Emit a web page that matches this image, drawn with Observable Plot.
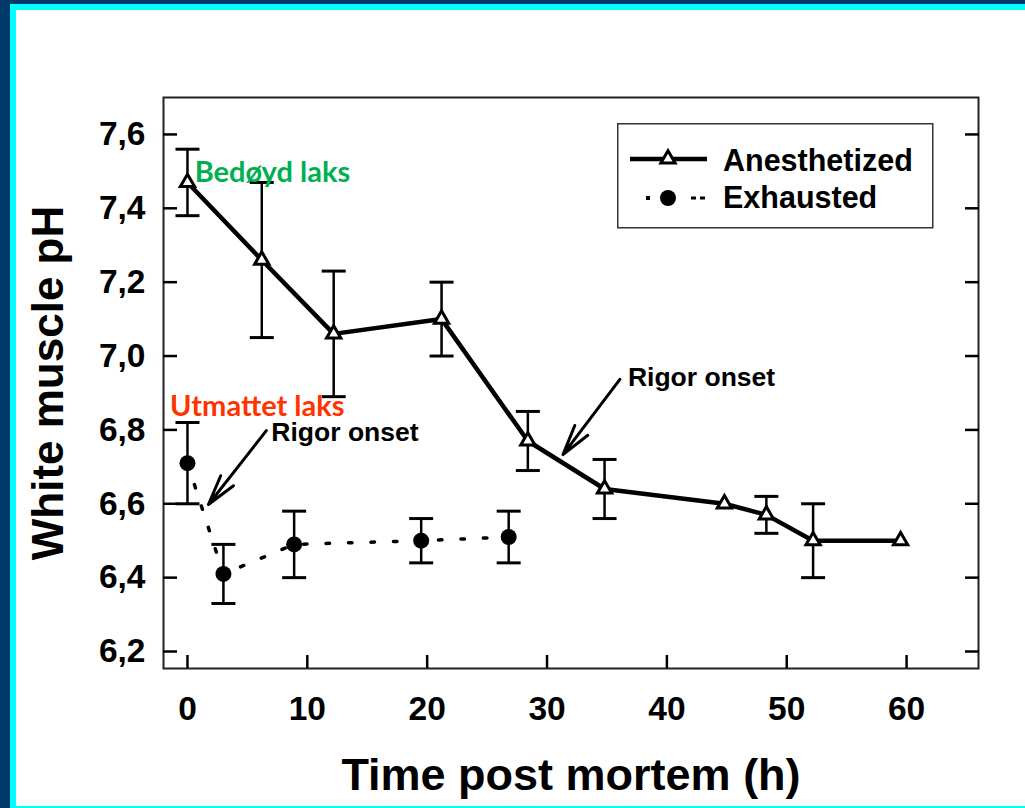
<!DOCTYPE html>
<html><head><meta charset="utf-8">
<script src="https://cdn.jsdelivr.net/npm/d3@7"></script>
<script src="https://cdn.jsdelivr.net/npm/@observablehq/plot@0.6"></script>
<style>
body{margin:0;background:#fff;}
#wrap{position:relative;width:1025px;height:808px;overflow:hidden;background:#fff;font-family:"Liberation Sans",Arial,sans-serif;}
.strip{position:absolute;}
</style></head><body><div id="wrap">
<div class="strip" style="left:0;top:0;width:10px;height:808px;background:#003a6a"></div>
<div class="strip" style="left:0;top:0;width:1025px;height:4px;background:#003a6a"></div>
<div class="strip" style="left:10px;top:4px;width:6px;height:804px;background:#00ffff"></div>
<div class="strip" style="left:10px;top:4px;width:1015px;height:6px;background:#00ffff"></div>
<div class="strip" style="left:10px;top:806px;width:1015px;height:2px;background:#00ffff"></div>
<div id="chart" style="position:absolute;left:0;top:0"></div>
<div id="legend" style="position:absolute;left:617px;top:123px"></div>
</div>
<script>
// ---- data ----
const anesTime = [0, 6.2, 12.2, 21.2, 28.4, 34.8, 44.8, 48.3, 52.2, 59.5];
const anesPH   = [7.47, 7.26, 7.06, 7.10, 6.77, 6.64, 6.60, 6.57, 6.50, 6.50];
const anesLo   = [7.38, 7.05, 6.89, 7.00, 6.69, 6.56, null, 6.52, 6.40, null];
const anesHi   = [7.56, 7.47, 7.23, 7.20, 6.85, 6.72, null, 6.62, 6.60, null];
const exhTime  = [0, 3.0, 8.9, 19.5, 26.8];
const exhPH    = [6.71, 6.41, 6.49, 6.50, 6.51];
const exhLo    = [6.60, 6.33, 6.40, 6.44, 6.44];
const exhHi    = [6.82, 6.49, 6.58, 6.56, 6.58];
const xTicks = [0, 10, 20, 30, 40, 50, 60];
const yTicks = [6.2, 6.4, 6.6, 6.8, 7.0, 7.2, 7.4, 7.6];
const seriesNames = ["Anesthetized", "Exhausted"];
const xTitle = "Time post mortem (h)";
const yTitle = "White muscle pH";
// group labels (Norwegian) and "Rigor onset" annotations, in data units
const groupLabels = ["Bedøyd laks", "Utmattet laks"];
const groupLabelX = [0.6, -1.45];
const groupLabelY = [7.497, 6.862];
const rigorLabel = "Rigor onset";
const rigorLabelX = [36.75, 7.0];
const rigorLabelY = [6.942, 6.794];
const rigorArrowFromX = [36.08, 6.58];
const rigorArrowFromY = [6.937, 6.798];
const rigorArrowToX = [31.33, 1.75];
const rigorArrowToY = [6.733, 6.598];

// ---- tables ----
const anes = anesTime.map((t, i) => ({t, ph: anesPH[i], lo: anesLo[i], hi: anesHi[i]}));
const exh = exhTime.map((t, i) => ({t, ph: exhPH[i], lo: exhLo[i], hi: exhHi[i]}));
const anesErr = anes.filter(d => d.lo != null);
const groups = groupLabels.map((s, i) => ({s, x: groupLabelX[i], y: groupLabelY[i], c: i === 0 ? "#00b050" : "#ff3300"}));
const rigors = rigorLabelX.map((x, i) => ({s: rigorLabel, x, y: rigorLabelY[i]}));
const arrows = rigorArrowFromX.map((x, i) => ({x1: x, y1: rigorArrowFromY[i], x2: rigorArrowToX[i], y2: rigorArrowToY[i]}));

const capSymbol = {draw(ctx, size) { const w = Math.sqrt(size / Math.PI); ctx.moveTo(-w, 0); ctx.lineTo(w, 0); }};
const fmtY = d => d.toFixed(1).replace(".", ",");
const bold = {fontWeight: "bold", fontFamily: "Liberation Sans, Arial, sans-serif"};

const errMarks = (rows) => [
  Plot.ruleX(rows, {x: "t", y1: "lo", y2: "hi", stroke: "black", strokeWidth: 2.5}),
  Plot.dot(rows, {x: "t", y: "lo", symbol: capSymbol, r: 12, stroke: "black", strokeWidth: 3, fill: "none"}),
  Plot.dot(rows, {x: "t", y: "hi", symbol: capSymbol, r: 12, stroke: "black", strokeWidth: 3, fill: "none"})
];

const chart = Plot.plot({
  width: 1025, height: 808,
  marginLeft: 163, marginRight: 47, marginTop: 97, marginBottom: 140,
  style: {background: "transparent", overflow: "visible", fontFamily: "Liberation Sans, Arial, sans-serif"},
  x: {domain: [-2, 66]},
  y: {domain: [6.154, 7.70]},
  marks: [
    Plot.frame({stroke: "#222", strokeWidth: 2}),
    Plot.axisY(yTicks, {anchor: "left", tickSize: -14, tickFormat: () => "", strokeWidth: 2.5, label: null}),
    Plot.axisY(yTicks, {anchor: "right", tickSize: -14, tickFormat: () => "", strokeWidth: 2.5, label: null}),
    Plot.axisY(yTicks, {anchor: "left", tickSize: 0, tickPadding: 18, tickFormat: fmtY, fontSize: 33.5, ...bold, fill: "black", label: null}),
    Plot.axisX(xTicks, {anchor: "bottom", tickSize: -13, tickFormat: () => "", strokeWidth: 2.5, label: null}),
    Plot.axisX(xTicks, {anchor: "bottom", tickSize: 0, tickPadding: 28, fontSize: 33.5, ...bold, fill: "black", label: null}),
    Plot.text([yTitle], {text: d => d, frameAnchor: "left", dx: -115, rotate: -90, textAnchor: "middle", fontSize: 44, ...bold, fill: "black", lineAnchor: "middle"}),
    Plot.text([xTitle], {text: d => d, frameAnchor: "bottom", dy: 107, textAnchor: "middle", fontSize: 45, ...bold, fill: "black", lineAnchor: "middle"}),
    Plot.line(exh, {x: "t", y: "ph", stroke: "black", strokeWidth: 3.5, strokeDasharray: "3.5,19"}),
    Plot.line(anes, {x: "t", y: "ph", stroke: "black", strokeWidth: 4.5}),
    ...errMarks(anesErr),
    ...errMarks(exh),
    Plot.dot(exh, {x: "t", y: "ph", r: 8, fill: "black", stroke: "none"}),
    Plot.dot(anes, {x: "t", y: "ph", symbol: "triangle", r: 5.3, fill: "white", stroke: "black", strokeWidth: 3}),
    Plot.arrow(arrows, {x1: "x1", y1: "y1", x2: "x2", y2: "y2", headAngle: 30, headLength: 42, stroke: "black", strokeWidth: 3}),
    Plot.text(groups, {x: "x", y: "y", text: "s", fill: "c", textAnchor: "start", lineAnchor: "middle", fontSize: 29, fontWeight: "bold", fontFamily: "Lato, sans-serif"}),
    Plot.text(rigors, {x: "x", y: "y", text: "s", fill: "black", textAnchor: "start", lineAnchor: "middle", fontSize: 26.5, ...bold})
  ]
});
document.getElementById("chart").appendChild(chart);

// ---- legend (inside the plot frame, as in the original) ----
const lg = d3.select("#legend").append("svg").attr("width", 317).attr("height", 106)
  .style("font-family", "Liberation Sans, Arial, sans-serif");
lg.append("rect").attr("x", 0.75).attr("y", 0.75).attr("width", 315).attr("height", 104)
  .attr("fill", "white").attr("stroke", "#333").attr("stroke-width", 1.5);
lg.append("line").attr("x1", 13).attr("x2", 90).attr("y1", 36).attr("y2", 36).attr("stroke", "black").attr("stroke-width", 4.5);
lg.append("path").attr("d", d3.symbol(d3.symbolTriangle, Math.PI * 5.3 * 5.3)()).attr("transform", "translate(51,36)")
  .attr("fill", "white").attr("stroke", "black").attr("stroke-width", 3);
lg.append("rect").attr("x", 29).attr("y", 73).attr("width", 4).attr("height", 4).attr("fill", "black");
lg.append("circle").attr("cx", 51).attr("cy", 75).attr("r", 8).attr("fill", "black");
lg.append("line").attr("x1", 74).attr("x2", 88).attr("y1", 75).attr("y2", 75).attr("stroke", "black").attr("stroke-width", 3).attr("stroke-dasharray", "5,4");
lg.selectAll("text.lab").data(seriesNames).join("text").attr("class", "lab")
  .attr("x", 106).attr("y", (d, i) => i === 0 ? 48 : 85)
  .attr("font-size", 30.5).attr("font-weight", "bold").attr("fill", "black").text(d => d);
</script></body></html>
